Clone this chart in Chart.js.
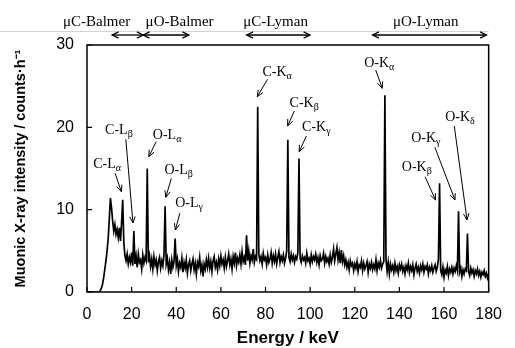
<!DOCTYPE html>
<html><head><meta charset="utf-8">
<script src="https://cdn.jsdelivr.net/npm/chart.js@4.4.0/dist/chart.umd.min.js"></script>
<style>html,body{margin:0;padding:0;background:#fff;}canvas{display:block;}</style>
</head><body>
<canvas id="c" width="515" height="348"></canvas>
<script>
// Energy channels (keV)
const energyKeV = [
0,0.5,1,1.5,2,2.5,3,3.5,4,4.5,
5,5.5,6,6.5,7,7.5,8,8.5,9,9.5,
10,10.5,11,11.5,12,12.5,13,13.5,14,14.5,
15,15.5,16,16.5,17,17.5,18,18.5,19,19.5,
20,20.5,21,21.5,22,22.5,23,23.5,24,24.5,
25,25.5,26,26.5,27,27.5,28,28.5,29,29.5,
30,30.5,31,31.5,32,32.5,33,33.5,34,34.5,
35,35.5,36,36.5,37,37.5,38,38.5,39,39.5,
40,40.5,41,41.5,42,42.5,43,43.5,44,44.5,
45,45.5,46,46.5,47,47.5,48,48.5,49,49.5,
50,50.5,51,51.5,52,52.5,53,53.5,54,54.5,
55,55.5,56,56.5,57,57.5,58,58.5,59,59.5,
60,60.5,61,61.5,62,62.5,63,63.5,64,64.5,
65,65.5,66,66.5,67,67.5,68,68.5,69,69.5,
70,70.5,71,71.5,72,72.5,73,73.5,74,74.5,
75,75.5,76,76.5,77,77.5,78,78.5,79,79.5,
80,80.5,81,81.5,82,82.5,83,83.5,84,84.5,
85,85.5,86,86.5,87,87.5,88,88.5,89,89.5,
90,90.5,91,91.5,92,92.5,93,93.5,94,94.5,
95,95.5,96,96.5,97,97.5,98,98.5,99,99.5,
100,100.5,101,101.5,102,102.5,103,103.5,104,104.5,
105,105.5,106,106.5,107,107.5,108,108.5,109,109.5,
110,110.5,111,111.5,112,112.5,113,113.5,114,114.5,
115,115.5,116,116.5,117,117.5,118,118.5,119,119.5,
120,120.5,121,121.5,122,122.5,123,123.5,124,124.5,
125,125.5,126,126.5,127,127.5,128,128.5,129,129.5,
130,130.5,131,131.5,132,132.5,133,133.5,134,134.5,
135,135.5,136,136.5,137,137.5,138,138.5,139,139.5,
140,140.5,141,141.5,142,142.5,143,143.5,144,144.5,
145,145.5,146,146.5,147,147.5,148,148.5,149,149.5,
150,150.5,151,151.5,152,152.5,153,153.5,154,154.5,
155,155.5,156,156.5,157,157.5,158,158.5,159,159.5,
160,160.5,161,161.5,162,162.5,163,163.5,164,164.5,
165,165.5,166,166.5,167,167.5,168,168.5,169,169.5,
170,170.5,171,171.5,172,172.5,173,173.5,174,174.5,
175,175.5,176,176.5,177,177.5,178,178.5,179,179.5,
180
];
// Muonic X-ray intensity (counts/h)
const intensity = [
0,0,0,0,0,0,0,0,0,0,
0,0,0.2,0.5,1.0,1.8,2.8,3.8,5.0,6.5,
8.9,11.4,10.2,8.6,7.4,8.2,7.0,7.6,6.6,7.8,
6.2,8.4,11.2,6.0,4.4,3.8,4.6,3.4,4.2,3.6,
4.8,3.2,7.4,3.4,4.4,3.0,4.6,3.6,3.9,2.8,
4.5,3.5,4.2,3.8,15.0,3.6,4.4,3.1,4.0,2.8,
4.3,3.3,3.9,2.6,3.7,4.2,2.9,3.8,3.2,4.5,
10.4,3.4,4.1,2.7,3.6,2.2,3.9,3.0,3.7,6.5,
3.2,4.0,2.5,3.5,3.0,4.1,2.4,3.6,2.9,3.9,
2.3,3.3,3.8,2.6,3.4,4.0,2.7,3.5,2.2,3.6,
3.1,4.2,2.6,3.3,1.9,3.4,2.8,3.9,3.0,4.1,
2.9,3.7,2.5,3.8,4.3,3.0,3.6,2.7,4.0,3.2,
4.4,3.4,3.9,2.9,4.2,3.1,3.8,4.6,3.3,4.0,
2.8,4.3,3.5,4.8,3.2,4.1,3.6,4.5,3.4,4.9,
3.7,4.2,3.3,6.9,3.8,5.0,3.5,4.4,3.9,5.2,
3.6,4.3,4.0,22.5,4.6,3.8,4.3,3.4,4.7,3.9,
4.2,3.3,4.5,3.6,4.0,4.8,3.5,4.4,3.7,4.6,
3.4,4.2,4.9,3.6,4.3,3.8,4.5,3.5,4.1,5.0,
18.5,4.2,3.7,4.6,3.9,4.4,3.6,4.3,4.0,4.8,
16.2,4.1,3.6,4.4,3.9,4.2,3.5,4.7,3.8,4.1,
3.4,4.5,3.7,4.3,3.9,4.6,3.6,4.2,3.3,4.4,
3.8,4.0,4.7,3.5,4.3,3.7,4.1,3.4,4.5,3.6,
4.2,5.2,3.8,4.6,5.4,3.9,4.8,3.5,5.1,3.7,
4.4,3.3,3.9,3.0,3.6,2.7,3.8,3.2,3.5,2.6,
3.4,2.9,3.7,2.5,3.3,3.0,3.8,2.6,3.5,2.8,
3.2,3.7,2.4,3.4,2.9,3.6,2.7,3.3,2.8,3.9,
2.6,3.5,3.0,3.8,2.9,3.4,3.7,23.9,3.9,2.5,
3.6,2.2,3.4,2.7,3.2,2.4,3.5,2.6,3.1,2.3,
3.3,2.8,3.4,2.5,3.0,2.2,3.2,2.7,3.5,2.4,
3.1,2.6,3.3,2.1,2.9,3.4,2.5,3.0,2.3,3.2,
2.7,3.4,2.4,3.1,2.8,3.3,2.2,3.0,2.6,3.2,
2.4,2.9,3.3,2.5,3.0,4.0,13.2,2.6,2.1,3.0,
1.8,2.7,2.3,3.1,2.0,2.8,2.4,3.0,2.2,2.9,
2.5,3.2,2.6,9.8,2.4,2.9,1.9,2.7,2.2,2.8,
2.6,7.1,2.5,2.0,2.9,2.3,2.7,1.9,2.6,2.2,
2.8,2.0,2.5,1.8,2.4,2.1,2.6,1.9,2.3,1.7,
2.2
];
const xTickValues = [0,20,40,60,80,100,120,140,160,180];
const yTickValues = [0,10,20,30];

// Peak label names
const peakMain = ['C-L','C-L','O-L','O-L','O-L','C-K','C-K','C-K','O-K','O-K','O-K','O-K'];
const peakSub  = ['α','β','α','β','γ','α','β','γ','α','β','γ','δ'];
// label anchor (keV, counts) and arrow (start -> tip) in data units
const labelAt = [[2.8,15.06],[8.1,19.19],[29.5,18.58],[34.7,14.33],[39.5,10.32],[78.6,26.24],[90.8,22.47],[96.4,19.56],[124.2,27.33],[141.1,14.70],[145.3,18.22],[160.5,20.77]];
const arrowFrom = [[12.6,14.42],[17.4,18.55],[31.0,18.26],[37.8,13.81],[41.6,9.56],[80.9,25.83],[92.9,21.98],[98.3,18.95],[129.4,26.96],[151.5,14.0],[155.9,17.58],[164.6,20.16]];
const arrowTo = [[15.4,12.18],[20.6,8.38],[27.7,16.43],[35.3,11.50],[39.6,7.53],[76.3,23.72],[89.9,20.16],[95.1,17.04],[132.3,24.74],[156.2,11.17],[164.9,11.17],[170.3,8.75]];

// Series ranges shown above the plot
const rangeNames = ['μC-Balmer','μO-Balmer','μC-Lyman','μO-Lyman'];
const rangeFrom = [11.3,25.2,71.6,128.0];
const rangeTo = [25.2,45.6,99.9,179.0];
const rangeLabelX = [4.3,41.5,84.5,151.8];

function arrowHead(ctx, x1, y1, x2, y2, len, ang) {
  const a = Math.atan2(y2 - y1, x2 - x1);
  ctx.beginPath();
  ctx.moveTo(x2 - len * Math.cos(a - ang), y2 - len * Math.sin(a - ang));
  ctx.lineTo(x2, y2);
  ctx.lineTo(x2 - len * Math.cos(a + ang), y2 - len * Math.sin(a + ang));
  ctx.stroke();
}

const decor = {
  id: 'decor',
  afterDraw(chart) {
    const ctx = chart.ctx, xs = chart.scales.x, ys = chart.scales.y, ca = chart.chartArea;
    ctx.save();
    // faint top rule
    ctx.strokeStyle = '#d4d4d4'; ctx.lineWidth = 1;
    ctx.beginPath(); ctx.moveTo(0, 31.5); ctx.lineTo(ca.right, 31.5); ctx.stroke();
    // frame
    ctx.strokeStyle = '#000'; ctx.lineWidth = 1.5;
    ctx.strokeRect(ca.left, ca.top, ca.right - ca.left, ca.bottom - ca.top);
    // inward ticks
    ctx.lineWidth = 1.2;
    ctx.beginPath();
    xTickValues.forEach(v => { const p = xs.getPixelForValue(v); ctx.moveTo(p, ca.bottom); ctx.lineTo(p, ca.bottom - 5); });
    yTickValues.forEach(v => { const p = ys.getPixelForValue(v); ctx.moveTo(ca.left, p); ctx.lineTo(ca.left + 5, p); });
    ctx.stroke();
    // peak labels
    ctx.fillStyle = '#000'; ctx.textBaseline = 'alphabetic'; ctx.textAlign = 'left';
    for (let i = 0; i < peakMain.length; i++) {
      const lx = xs.getPixelForValue(labelAt[i][0]), ly = ys.getPixelForValue(labelAt[i][1]);
      ctx.font = '14px "Liberation Serif"';
      ctx.fillText(peakMain[i], lx, ly);
      const w = ctx.measureText(peakMain[i]).width;
      ctx.font = '10px "Liberation Serif"';
      ctx.fillText(peakSub[i], lx + w, ly + 3);
      const x1 = xs.getPixelForValue(arrowFrom[i][0]), y1 = ys.getPixelForValue(arrowFrom[i][1]);
      const x2 = xs.getPixelForValue(arrowTo[i][0]), y2 = ys.getPixelForValue(arrowTo[i][1]);
      ctx.lineWidth = 1;
      ctx.beginPath(); ctx.moveTo(x1, y1); ctx.lineTo(x2, y2); ctx.stroke();
      arrowHead(ctx, x1, y1, x2, y2, 7, 0.4);
    }
    // range arrows
    ctx.lineWidth = 1.3;
    const ay = ca.top - 10;
    for (let i = 0; i < rangeNames.length; i++) {
      const a = xs.getPixelForValue(rangeFrom[i]), b = xs.getPixelForValue(rangeTo[i]);
      ctx.beginPath(); ctx.moveTo(a, ay); ctx.lineTo(b, ay); ctx.stroke();
      arrowHead(ctx, b, ay, a, ay, 7, 0.45);
      arrowHead(ctx, a, ay, b, ay, 7, 0.45);
      ctx.font = '15px "Liberation Serif"'; ctx.textAlign = 'center';
      ctx.fillText(rangeNames[i], xs.getPixelForValue(rangeLabelX[i]), ca.top - 19);
    }
    ctx.restore();
  }
};

new Chart(document.getElementById('c'), {
  type: 'line',
  data: {
    datasets: [{
      data: energyKeV.map((e, i) => ({x: e, y: intensity[i]})),
      borderColor: '#000', borderWidth: 1.7, pointRadius: 0, tension: 0, fill: false
    }]
  },
  options: {
    responsive: false, animation: false, devicePixelRatio: 1,
    layout: {padding: {left: 0, right: 13.5, top: 45, bottom: 0}},
    plugins: {legend: {display: false}, tooltip: {enabled: false}},
    scales: {
      x: {
        type: 'linear', min: 0, max: 180,
        ticks: {stepSize: 20, padding: 13, maxRotation: 0, color: '#000', font: {family: 'Liberation Sans', size: 16}},
        grid: {display: false, drawTicks: false}, border: {display: false},
        title: {display: true, text: 'Energy / keV', color: '#000', font: {family: 'Liberation Sans', size: 17, weight: 'bold', lineHeight: 1}, padding: {top: 0, bottom: 1}},
        afterFit(s) { s.height = 56; }
      },
      y: {
        min: 0, max: 30,
        ticks: {stepSize: 10, padding: 13, color: '#000', font: {family: 'Liberation Sans', size: 16}},
        grid: {display: false, drawTicks: false}, border: {display: false},
        title: {display: true, text: 'Muonic X-ray intensity / counts·h⁻¹', color: '#000', font: {family: 'Liberation Sans', size: 14.5, weight: 'bold', lineHeight: 1.2}, padding: {top: 12, bottom: 0}},
        afterFit(s) { s.width = 87; }
      }
    }
  },
  plugins: [decor]
});
</script>
</body></html>
